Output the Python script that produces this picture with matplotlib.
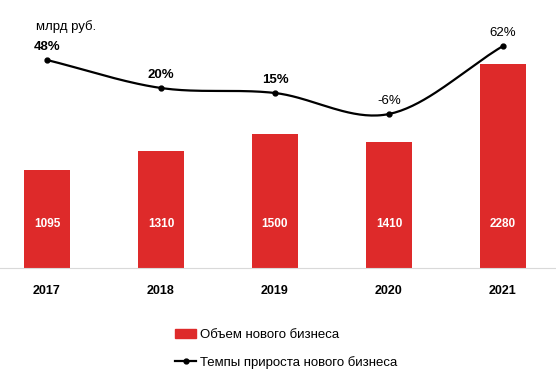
import numpy as np
import matplotlib.pyplot as plt
from matplotlib.patches import Patch
from matplotlib.lines import Line2D

plt.rcParams['font.family'] = ['Liberation Sans', 'DejaVu Sans']

years = ['2017', '2018', '2019', '2020', '2021']
volume = [1095, 1310, 1500, 1410, 2280]
growth = [48, 20, 15, -6, 62]
growth_bold = [True, True, True, False, False]

bar_color = '#de2a2a'


def catmull_rom(xs, ys, n=40):
    # smooth curve through points, like Excel's smoothed line
    px = np.concatenate([[2 * xs[0] - xs[1]], xs, [2 * xs[-1] - xs[-2]]])
    py = np.concatenate([[2 * ys[0] - ys[1]], ys, [2 * ys[-1] - ys[-2]]])
    cx, cy = [], []
    for i in range(1, len(px) - 2):
        t = np.linspace(0, 1, n)
        for arr, out in ((px, cx), (py, cy)):
            p0, p1, p2, p3 = arr[i - 1], arr[i], arr[i + 1], arr[i + 2]
            out.extend(0.5 * ((2 * p1) + (-p0 + p2) * t
                              + (2 * p0 - 5 * p1 + 4 * p2 - p3) * t ** 2
                              + (-p0 + 3 * p1 - 3 * p2 + p3) * t ** 3))
    return np.array(cx), np.array(cy)


fig = plt.figure(figsize=(5.56, 3.77), dpi=100)
ax = fig.add_axes([0, 0.289, 1, 0.658])
x = np.arange(len(years))

ax.bar(x, volume, width=0.4, color=bar_color, zorder=2)
for xi, v in zip(x, volume):
    ax.text(xi, 490, str(v), ha='center', va='center', color='white',
            fontsize=8.5, fontweight='bold', zorder=3)

ax.set_xlim(-0.412, 4.465)
ax.set_ylim(0, 2771)
ax.set_xticks(x)
ax.set_xticklabels(years, fontsize=9, fontweight='bold')
ax.tick_params(axis='x', length=0, pad=12)
ax.set_yticks([])
for s in ['top', 'left', 'right']:
    ax.spines[s].set_visible(False)
ax.spines['bottom'].set_color('#d9d9d9')

ax2 = ax.twinx()
sx, sy = catmull_rom(x.astype(float), np.array(growth, dtype=float))
ax2.plot(sx, sy, color='black', lw=1.6, zorder=4)
ax2.plot(x, growth, 'o', color='black', ms=3.5, zorder=5)
for xi, g, b in zip(x, growth, growth_bold):
    ax2.text(xi, g + 13, f'{g}%', ha='center', va='center', fontsize=9.5,
             fontweight='bold' if b else 'normal')
ax2.set_ylim(-160, 88)
ax2.axis('off')

fig.text(36 / 556, 1 - 27 / 377, 'млрд руб.', fontsize=9.5, va='center')

handles = [Patch(color=bar_color),
           Line2D([0], [0], color='black', lw=1.6, marker='o', ms=3.5)]
labels = ['Объем нового бизнеса', 'Темпы прироста нового бизнеса']
fig.legend(handles, labels, loc='center', bbox_to_anchor=(0.515, 1 - 349 / 377),
           frameon=False, fontsize=9.5, handlelength=1.6, handletextpad=0.3,
           labelspacing=1.1)

fig.savefig('out.png', dpi=100)
